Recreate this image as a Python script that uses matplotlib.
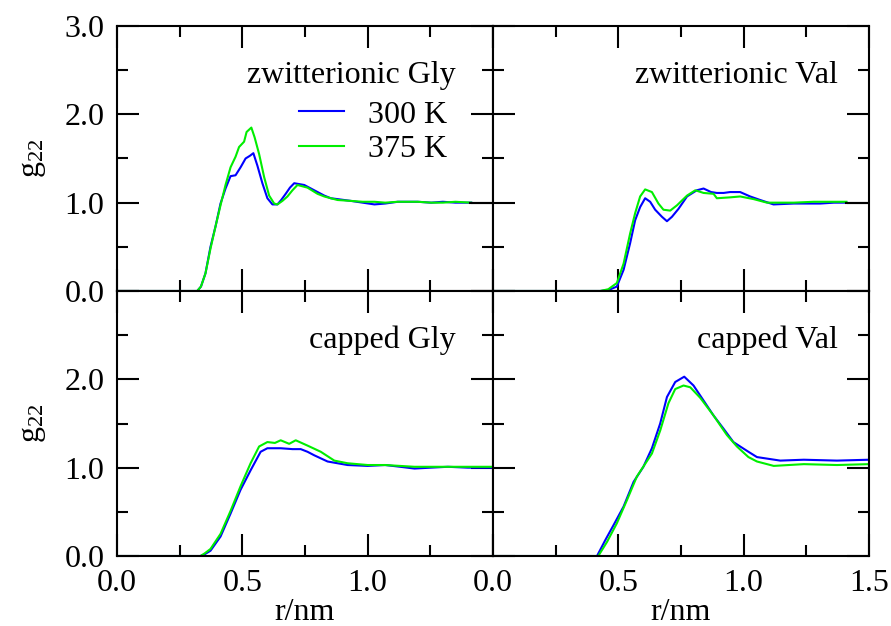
import matplotlib
matplotlib.use('Agg')
import matplotlib.pyplot as plt
from matplotlib.ticker import MultipleLocator

plt.rcParams['font.family'] = ['Liberation Serif', 'DejaVu Serif']
plt.rcParams['mathtext.fontset'] = 'custom'
plt.rcParams['mathtext.rm'] = 'Liberation Serif'
plt.rcParams['mathtext.it'] = 'Liberation Serif'

# zwitterionic Gly
zg_r_300 = [0, 0.32, 0.335, 0.353, 0.373, 0.393, 0.413, 0.433, 0.453, 0.473, 0.493, 0.513, 0.530, 0.544,
            0.56, 0.58, 0.60, 0.62, 0.64, 0.655, 0.673, 0.69, 0.707, 0.727, 0.747, 0.787, 0.827, 0.853,
            0.88, 0.933, 0.98, 1.027, 1.07, 1.12, 1.2, 1.253, 1.3, 1.35, 1.413]
zg_g_300 = [0, 0, 0.05, 0.20, 0.50, 0.73, 0.99, 1.16, 1.30, 1.31, 1.40, 1.50, 1.53, 1.56,
            1.42, 1.22, 1.05, 0.98, 0.98, 1.03, 1.10, 1.17, 1.22, 1.21, 1.20, 1.14, 1.08, 1.05,
            1.04, 1.02, 1.00, 0.98, 0.99, 1.01, 1.01, 1.00, 1.01, 1.00, 1.00]
zg_r_375 = [0, 0.32, 0.335, 0.353, 0.373, 0.393, 0.413, 0.433, 0.453, 0.473, 0.487, 0.507, 0.517, 0.536,
            0.549, 0.567, 0.587, 0.607, 0.627, 0.64, 0.66, 0.68, 0.70, 0.72, 0.76, 0.80, 0.827, 0.853,
            0.88, 0.933, 0.98, 1.027, 1.07, 1.12, 1.2, 1.253, 1.3, 1.35, 1.413]
zg_g_375 = [0, 0, 0.05, 0.20, 0.48, 0.73, 0.97, 1.20, 1.40, 1.52, 1.63, 1.69, 1.80, 1.85,
            1.74, 1.55, 1.29, 1.08, 0.99, 0.98, 1.02, 1.07, 1.14, 1.20, 1.17, 1.10, 1.07, 1.05,
            1.03, 1.02, 1.01, 1.01, 1.00, 1.01, 1.01, 1.00, 1.00, 1.01, 1.00]

# zwitterionic Val
zv_r_300 = [0, 0.40, 0.428, 0.46, 0.494, 0.521, 0.547, 0.567, 0.587, 0.607, 0.627, 0.647, 0.674, 0.694,
            0.714, 0.74, 0.774, 0.813, 0.84, 0.87, 0.893, 0.92, 0.946, 0.986, 1.026, 1.066, 1.119,
            1.2, 1.306, 1.36, 1.41]
zv_g_300 = [0, 0, 0.0, 0.01, 0.05, 0.24, 0.54, 0.80, 0.95, 1.05, 1.01, 0.92, 0.84, 0.79,
            0.84, 0.93, 1.07, 1.14, 1.16, 1.12, 1.11, 1.11, 1.12, 1.12, 1.07, 1.03, 0.98,
            0.99, 0.99, 1.00, 1.00]
zv_r_375 = [0, 0.40, 0.428, 0.46, 0.494, 0.521, 0.547, 0.567, 0.587, 0.607, 0.634, 0.66, 0.68, 0.707,
            0.734, 0.774, 0.807, 0.84, 0.88, 0.893, 0.946, 0.986, 1.04, 1.093, 1.2, 1.28, 1.36, 1.41]
zv_g_375 = [0, 0, 0.0, 0.02, 0.09, 0.31, 0.65, 0.88, 1.07, 1.15, 1.12, 0.99, 0.92, 0.91,
            0.97, 1.08, 1.14, 1.11, 1.10, 1.05, 1.06, 1.07, 1.04, 1.00, 1.00, 1.01, 1.01, 1.01]

# end segment drawn in black in the upper panels
tail_r = [1.41, 1.5]
tail_g = [1.0, 1.0]

# capped Gly
cg_r_300 = [0, 0.333, 0.35, 0.373, 0.413, 0.453, 0.493, 0.533, 0.573, 0.60, 0.653, 0.70, 0.733, 0.76,
            0.787, 0.84, 0.92, 1.0, 1.07, 1.13, 1.187, 1.25, 1.32, 1.40, 1.45, 1.5]
cg_g_300 = [0, 0, 0.02, 0.06, 0.22, 0.48, 0.75, 0.97, 1.18, 1.22, 1.22, 1.21, 1.21, 1.18,
            1.14, 1.07, 1.03, 1.02, 1.03, 1.01, 0.99, 1.00, 1.01, 1.00, 1.00, 1.00]
cg_r_375 = [0, 0.333, 0.35, 0.373, 0.413, 0.453, 0.493, 0.533, 0.567, 0.60, 0.63, 0.653, 0.687, 0.713,
            0.76, 0.813, 0.867, 0.92, 1.0, 1.07, 1.187, 1.3, 1.4, 1.5]
cg_g_375 = [0, 0, 0.03, 0.08, 0.25, 0.51, 0.79, 1.05, 1.24, 1.29, 1.28, 1.31, 1.27, 1.31,
            1.25, 1.18, 1.08, 1.05, 1.03, 1.03, 1.01, 1.01, 1.01, 1.01]

# capped Val
cv_r_300 = [0, 0.415, 0.448, 0.481, 0.521, 0.561, 0.60, 0.634, 0.667, 0.694, 0.727, 0.763, 0.80, 0.84,
            0.88, 0.92, 0.959, 0.986, 1.019, 1.053, 1.146, 1.24, 1.372, 1.5]
cv_g_300 = [0, 0, 0.18, 0.35, 0.56, 0.84, 1.01, 1.22, 1.50, 1.80, 1.97, 2.03, 1.93, 1.76,
            1.59, 1.44, 1.29, 1.24, 1.18, 1.12, 1.08, 1.09, 1.08, 1.09]
cv_r_375 = [0, 0.42, 0.455, 0.494, 0.534, 0.574, 0.634, 0.667, 0.70, 0.727, 0.76, 0.787, 0.827, 0.88,
            0.933, 0.973, 1.019, 1.053, 1.12, 1.24, 1.372, 1.5]
cv_g_375 = [0, 0, 0.16, 0.37, 0.63, 0.90, 1.16, 1.42, 1.73, 1.89, 1.93, 1.91, 1.79, 1.59,
            1.37, 1.24, 1.12, 1.07, 1.02, 1.04, 1.03, 1.04]

titles = ['zwitterionic Gly', 'zwitterionic Val', 'capped Gly', 'capped Val']
series = [(zg_r_300, zg_g_300, zg_r_375, zg_g_375),
          (zv_r_300, zv_g_300, zv_r_375, zv_g_375),
          (cg_r_300, cg_g_300, cg_r_375, cg_g_375),
          (cv_r_300, cv_g_300, cv_r_375, cv_g_375)]

blue = '#0000ff'
green = '#00ee00'
fs = 23

fig, axes = plt.subplots(2, 2, figsize=(8.91, 6.26), dpi=100)
fig.subplots_adjust(left=0.1313, right=0.9753, top=0.9585, bottom=0.1118, wspace=0, hspace=0)

for i, ax in enumerate(axes.flat):
    r1, g1, r2, g2 = series[i]
    ax.plot(r1, g1, color=blue, lw=1.5, label='300 K')
    ax.plot(r2, g2, color=green, lw=1.5, label='375 K')
    if i < 2:
        ax.plot(tail_r, tail_g, color='black', lw=1.5)
    ax.set_xlim(0, 1.5)
    ax.set_ylim(0, 3.0)
    ax.xaxis.set_major_locator(MultipleLocator(0.5))
    ax.xaxis.set_minor_locator(MultipleLocator(0.25))
    ax.yaxis.set_major_locator(MultipleLocator(1.0))
    ax.yaxis.set_minor_locator(MultipleLocator(0.5))
    ax.tick_params(which='both', direction='in', top=True, right=True, width=1.5, labelsize=fs)
    ax.tick_params(which='major', length=16)
    ax.tick_params(which='minor', length=8)
    ax.tick_params(axis='y', pad=9)
    ax.tick_params(axis='x', pad=9)
    for s in ax.spines.values():
        s.set_linewidth(1.5)
    xr = 0.90 if i % 2 == 0 else 0.918
    ax.text(xr, 0.815, titles[i], transform=ax.transAxes, ha='right', va='center', fontsize=fs)

    if i % 2 == 0:
        ax.set_ylabel('g$_{22}$', fontsize=fs, labelpad=12)
        if i == 0:
            ax.set_yticks([0, 1, 2, 3])
            ax.set_yticklabels(['0.0', '1.0', '2.0', '3.0'])
        else:
            ax.set_yticks([0, 1, 2, 3])
            ax.set_yticklabels(['0.0', '1.0', '2.0', ''])
    else:
        ax.tick_params(axis='y', labelleft=False)
    if i >= 2:
        ax.set_xlabel('r/nm', fontsize=fs, labelpad=0)
        ax.set_xticks([0, 0.5, 1.0, 1.5])
        if i == 2:
            ax.set_xticklabels(['0.0', '0.5', '1.0', ''])
        else:
            ax.set_xticklabels(['0.0', '0.5', '1.0', '1.5'])
    else:
        ax.tick_params(axis='x', labelbottom=False)

axes[0, 0].legend(loc='upper left', bbox_to_anchor=(0.485, 0.72), frameon=False, fontsize=fs,
                  handlelength=1.4, handletextpad=0.75, labelspacing=0.15, borderpad=0.0,
                  borderaxespad=0.0)

plt.savefig('out.png', dpi=100)
